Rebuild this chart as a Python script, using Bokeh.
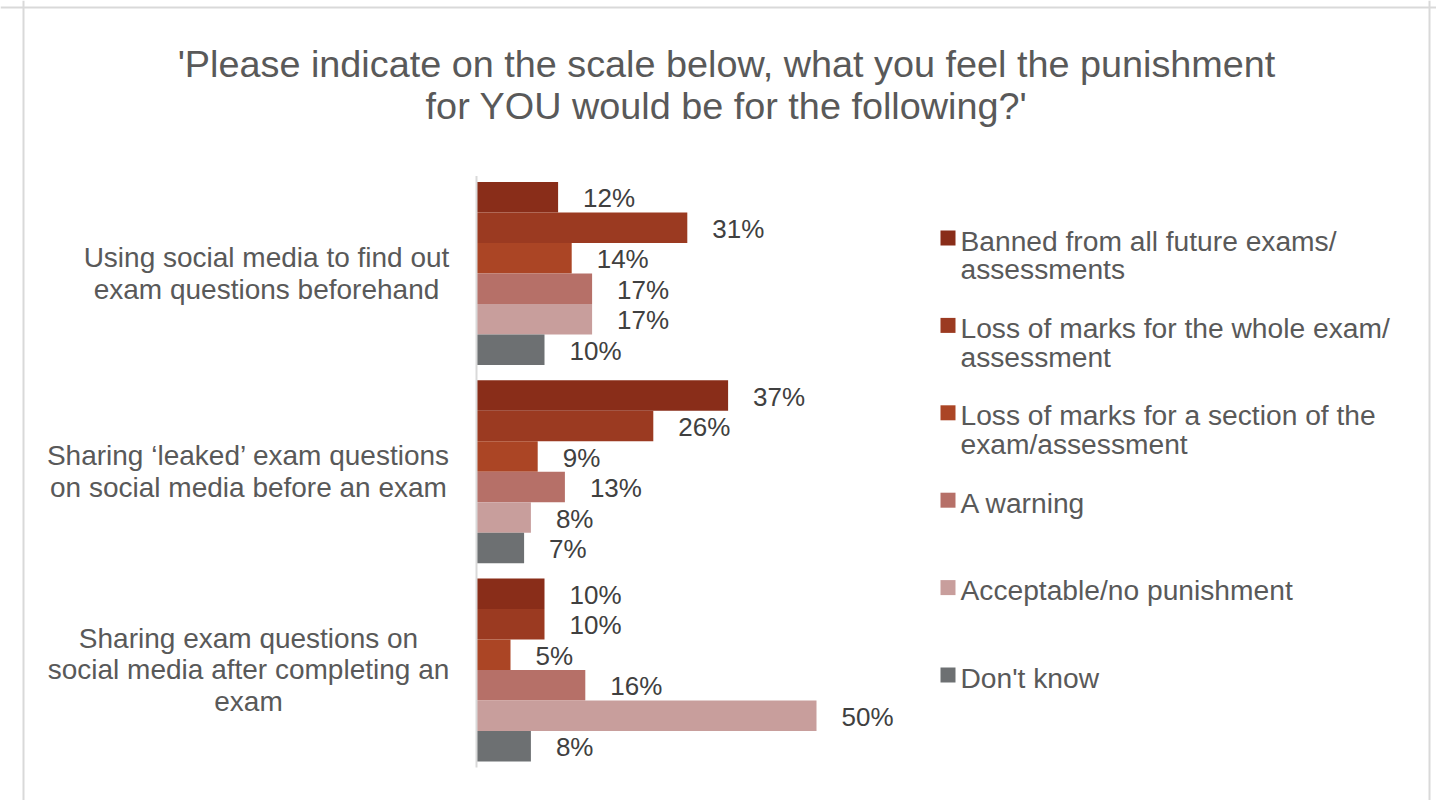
from bokeh.plotting import figure
from bokeh.models import Range1d, ColumnDataSource, Span
from bokeh.core.properties import value
from bokeh.embed import file_html
from bokeh.resources import INLINE

# ---------------- data ----------------
title_lines = [
    "'Please indicate on the scale below, what you feel the punishment",
    "for YOU would be for the following?'",
]
categories = [
    "Using social media to find out\nexam questions beforehand",
    "Sharing \u2018leaked\u2019 exam questions\non social media before an exam",
    "Sharing exam questions on\nsocial media after completing an\nexam",
]
series_names = [
    "Banned from all future exams/\nassessments",
    "Loss of marks for the whole exam/\nassessment",
    "Loss of marks for a section of the\nexam/assessment",
    "A warning",
    "Acceptable/no punishment",
    "Don't know",
]
series_colors = ["#892d19", "#9b3a21", "#ab4525", "#b67068", "#c89e9c", "#6d7072"]

banned = [12, 37, 10]
loss_whole = [31, 26, 10]
loss_section = [14, 9, 5]
warning = [17, 13, 16]
acceptable = [17, 8, 50]
dont_know = [10, 7, 8]
series_values = [banned, loss_whole, loss_section, warning, acceptable, dont_know]

# ---------------- layout (pixels on the page) ----------------
FIG_W, FIG_H = 1436, 800
FL, FR, FT, FB = 0, FIG_W, 0, FIG_H     # frame fills the canvas

AXIS_PX = 476.0        # x pixel of 0 %
PX_PER_PCT = 6.8
SLOT0_PX = 196.75      # centre of first bar
SLOT_PX = 30.5         # bar thickness
GROUP_SLOTS = 6.5      # group pitch in bar units

FONT = "Liberation Sans"


def px_x(px):
    return (px - AXIS_PX) / PX_PER_PCT


def px_y(py):
    return (py - SLOT0_PX) / SLOT_PX


x_range = Range1d(px_x(FL), px_x(FR))
y_range = Range1d(px_y(FB), px_y(FT))   # inverted: top of page = first slot

p = figure(width=FIG_W, height=FIG_H, x_range=x_range, y_range=y_range,
           output_backend="svg", toolbar_location=None,
           x_axis_location=None, y_axis_location=None,
           min_border_left=0, min_border_right=0,
           min_border_top=0, min_border_bottom=0)
p.grid.visible = False
p.background_fill_color = "white"
p.border_fill_color = "white"
p.outline_line_color = None

# chart border (left, right, top)
BORDER = "#d9d9d9"
p.add_layout(Span(location=px_x(23), dimension="height", line_color=BORDER, line_width=2))
p.add_layout(Span(location=px_x(1429), dimension="height", line_color=BORDER, line_width=2))
p.add_layout(Span(location=px_y(7), dimension="width", line_color=BORDER, line_width=2))

# ---------------- bars ----------------
ys, vals, labels, cols = [], [], [], []
for g in range(len(categories)):
    for s, vlist in enumerate(series_values):
        ys.append(g * GROUP_SLOTS + s)
        vals.append(vlist[g])
        labels.append(f"{vlist[g]}%")
        cols.append(series_colors[s])
src = ColumnDataSource(dict(y=ys, v=vals, label=labels, color=cols))

p.hbar(y="y", left=0, right="v", height=1.0, fill_color="color",
       line_color=None, source=src)
p.text(x="v", y="y", text="label", source=src, x_offset=25, y_offset=1,
       text_align="left", text_baseline="middle",
       text_font=value(FONT), text_font_size="26px", text_color="#404040")

# axis line
y_top = min(ys) - 0.5 - 0.2
y_bot = max(ys) + 0.5 + 0.2
p.segment(x0=[0], y0=[y_top], x1=[0], y1=[y_bot], line_color=BORDER, line_width=2)

# ---------------- category labels ----------------
CAT_CENTER_PX = [266, 248, 248]
cat_y = [g * GROUP_SLOTS + (len(series_values) - 1) / 2 for g in range(len(categories))]
p.text(x=[px_x(c) for c in CAT_CENTER_PX], y=cat_y, text=categories,
       text_align="center", text_baseline="middle", text_line_height=1.03,
       text_font=value(FONT), text_font_size="28px", text_color="#595959")

# ---------------- title ----------------
TITLE_CX = 726
TITLE_MID = [63, 105]
p.text(x=[px_x(TITLE_CX)] * 2, y=[px_y(b) for b in TITLE_MID], text=title_lines,
       text_align="center", text_baseline="middle",
       text_font=value(FONT), text_font_size="37.8px", text_color="#595959")

# ---------------- legend ----------------
LEG_TOP = 240
LEG_PITCH = 87.4
LEG_LINE = 29
SW_X = 947.5
TXT_X = 960
sw_y, tx_y = [], []
for i, name in enumerate(series_names):
    c = LEG_TOP + i * LEG_PITCH
    n = name.count("\n") + 1
    sw_y.append(px_y(c - 2.5))
    tx_y.append(px_y(c + (n - 1) * LEG_LINE / 2))
p.rect(x=[px_x(SW_X)] * len(series_names), y=sw_y, width=15, height=15,
       width_units="screen", height_units="screen",
       fill_color=series_colors, line_color=None)
p.text(x=[px_x(TXT_X)] * len(series_names), y=tx_y, text=series_names,
       text_align="left", text_baseline="middle", text_line_height=0.9,
       text_font=value(FONT), text_font_size="28.2px", text_color="#595959")

open("out.html", "w").write(file_html(p, INLINE))
